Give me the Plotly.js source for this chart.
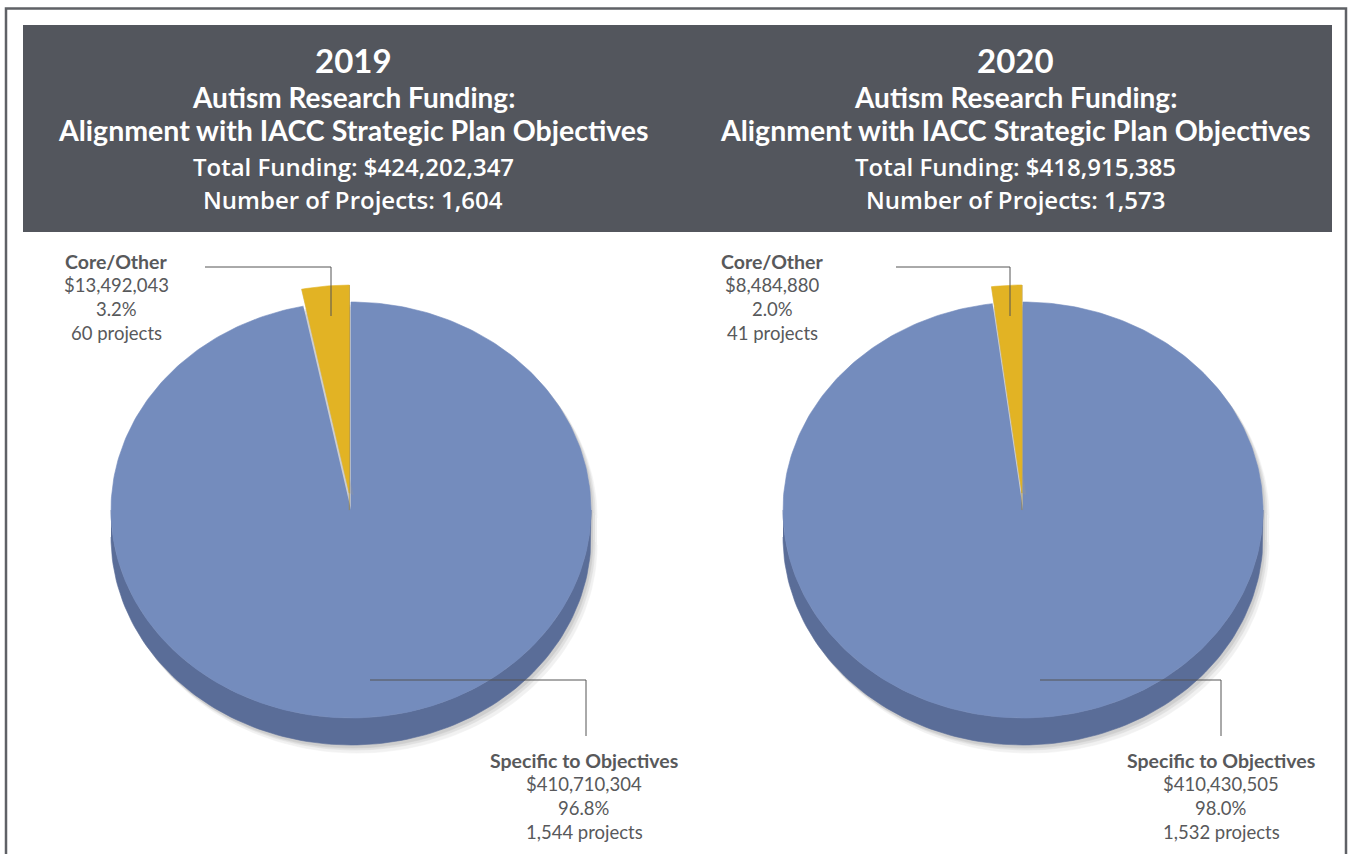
<!DOCTYPE html>
<html><head><meta charset="utf-8">
<script src="https://cdn.plot.ly/plotly-3.0.1.min.js"></script>
<style>html,body{margin:0;padding:0;background:#fff}#chart{width:1348px;height:854px}</style>
</head><body><div id="chart"></div>
<script>
// ---- data ----
const years = ['2019', '2020'];
const categories = ['Specific to Objectives', 'Core/Other'];
const funding2019 = [410710304, 13492043];
const funding2020 = [410430505, 8484880];
const projects2019 = [1544, 60];
const projects2020 = [1532, 41];
const totalFunding = [424202347, 418915385];
const totalProjects = [1604, 1573];
const fundingByYear = [funding2019, funding2020];
const projectsByYear = [projects2019, projects2020];

// ---- style / layout ----
const sliceColors = ['#748cbd', '#e2b324'];
const sliceSideColors = ['#5a6d98', '#a9851a'];
const FONT = 'Lato, "Open Sans", sans-serif';
const FONT2 = '"Open Sans", Lato, sans-serif';
const textColor = '#58595b';
const pies = [
  {cx: 351, cy: 510, coreLbl: [116, 261], specLbl: [584, 760], coreLine: [205, 331, 267, 316], specLine: [370, 586, 680, 736], head: 353},
  {cx: 1023, cy: 510, coreLbl: [772, 261], specLbl: [1221, 760], coreLine: [896, 1010, 267, 316], specLine: [1040, 1221, 680, 736], head: 1015}
];
const RX = 240, RY = 208, DEPTH = 27, RAISE = 17;
const explodeIndex = 1;

const fmt = v => v.toLocaleString('en-US');
const rad = a => a * Math.PI / 180;

function arc(cx, cy, a0, a1, n) {
  const xs = [], ys = [];
  for (let i = 0; i <= n; i++) {
    const a = rad(a0 + (a1 - a0) * i / n);
    xs.push(cx + RX * Math.cos(a));
    ys.push(cy - RY * Math.sin(a));
  }
  return [xs, ys];
}
function poly(xs, ys, color, opacity, name, hover) {
  return {type: 'scatter', mode: 'lines', x: xs, y: ys, fill: 'toself', fillcolor: color,
    line: {color: color, width: 0.6}, opacity: opacity === undefined ? 1 : opacity,
    hoverinfo: hover ? 'text' : 'skip', text: hover || '', hoveron: 'fills', name: name || '', showlegend: false};
}

const traces = [];
const shapes = [];
const annotations = [];

// frame and banner
shapes.push({type: 'rect', xref: 'x', yref: 'y', x0: 6, x1: 1346, y0: 8.5, y1: 870, line: {color: '#5f6166', width: 2.5}, layer: 'below'});
shapes.push({type: 'rect', xref: 'x', yref: 'y', x0: 23, x1: 1332, y0: 25, y1: 232, line: {width: 0}, fillcolor: '#53565d', layer: 'below'});

pies.forEach((p, k) => {
  const vals = fundingByYear[k];
  const projs = projectsByYear[k];
  const total = vals.reduce((a, b) => a + b, 0);
  const shares = vals.map(v => v / total);
  const {cx, cy} = p;

  // shadow
  [[6, 8, 0.10], [4, 5, 0.14], [2, 3, 0.18]].forEach(([dx, dy, op]) => {
    const top = arc(cx + dx, cy + dy, 0, 180, 90);
    const bot = arc(cx + dx, cy + dy + DEPTH, 180, 360, 90);
    traces.push(poly(top[0].concat(bot[0]), top[1].concat(bot[1]), '#808080', op));
  });
  // side wall (front half)
  const wTop = arc(cx, cy, 180, 360, 120);
  const wBot = arc(cx, cy + DEPTH, 360, 180, 120);
  traces.push(poly(wTop[0].concat(wBot[0]), wTop[1].concat(wBot[1]), sliceSideColors[0]));

  // slices
  let cum = 0;
  shares.forEach((s, i) => {
    const a0 = 90 - cum * 360, a1 = 90 - (cum + s) * 360;
    cum += s;
    let ox = cx, oy = cy;
    const hover = categories[i] + '<br>$' + fmt(vals[i]) + '<br>' + (s * 100).toFixed(1) + '%<br>' + fmt(projs[i]) + ' projects';
    if (i === explodeIndex) {
      const mid = rad((a0 + a1) / 2);
      ox = cx + RAISE * Math.cos(mid);
      oy = cy - RAISE * Math.sin(mid);
      const ex = ox + RX * Math.cos(rad(a1)), ey = oy - RY * Math.sin(rad(a1));
      traces.push(poly([ox, ex, ex, ox], [oy, ey, ey + RAISE, oy + RAISE], sliceSideColors[1]));
      const sx = ox + RX * Math.cos(rad(a0)), sy = oy - RY * Math.sin(rad(a0));
      traces.push(poly([ox, sx, sx + 4, ox + 4], [oy, sy, sy + 2, oy + 2], '#9a9a9a', 0.35));
    }
    const a = arc(ox, oy, a0, a1, Math.max(8, Math.round(Math.abs(a1 - a0))));
    traces.push(poly([ox].concat(a[0]), [oy].concat(a[1]), sliceColors[i], 1, categories[i], hover));
  });

  // leader lines
  const cl = p.coreLine, sl = p.specLine;
  shapes.push({type: 'path', xref: 'x', yref: 'y', path: `M${cl[0]},${cl[2]} L${cl[1]},${cl[2]} L${cl[1]},${cl[3]}`, line: {color: '#555', width: 1}});
  shapes.push({type: 'path', xref: 'x', yref: 'y', path: `M${sl[0]},${sl[2]} L${sl[1]},${sl[2]} L${sl[1]},${sl[3]}`, line: {color: '#555', width: 1}});

  // slice labels
  const lbl = (pos, i) => {
    const lines = ['<b>' + categories[i] + '</b>', '$' + fmt(vals[i]), (shares[i] * 100).toFixed(1) + '%', fmt(projs[i]) + ' projects'];
    lines.forEach((t, j) => annotations.push({xref: 'x', yref: 'y', x: pos[0], y: pos[1] + j * 24, text: t, showarrow: false,
      xanchor: 'center', yanchor: 'middle', font: {family: FONT, size: j === 0 ? 19.5 : 18.5, color: textColor}}));
  };
  lbl(p.coreLbl, 1);
  lbl(p.specLbl, 0);

  // header
  const head = [
    ['<b>' + years[k] + '</b>', 60, 33, FONT, 'normal'],
    ['<b>Autism Research Funding:</b>', 97, 28, FONT, 'normal'],
    ['<b>Alignment with IACC Strategic Plan Objectives</b>', 130, 28.5, FONT, 'normal'],
    ['Total Funding: $' + fmt(totalFunding[k]), 166, 24, FONT2, 600],
    ['Number of Projects: ' + fmt(totalProjects[k]), 199, 24, FONT2, 600]
  ];
  head.forEach(([t, y, sz, fam, w]) => annotations.push({xref: 'x', yref: 'y', x: p.head, y: y, text: t, showarrow: false,
    xanchor: 'center', yanchor: 'middle', font: {family: fam, size: sz, color: '#ffffff', weight: w}}));
});

const layout = {
  width: 1348, height: 854,
  margin: {l: 0, r: 0, t: 0, b: 0},
  paper_bgcolor: '#fff', plot_bgcolor: 'rgba(0,0,0,0)',
  xaxis: {range: [0, 1348], visible: false, fixedrange: true},
  yaxis: {range: [854, 0], visible: false, fixedrange: true},
  shapes: shapes, annotations: annotations, showlegend: false,
  hovermode: 'closest'
};
Plotly.newPlot('chart', traces, layout, {displayModeBar: false});
</script>
</body></html>
